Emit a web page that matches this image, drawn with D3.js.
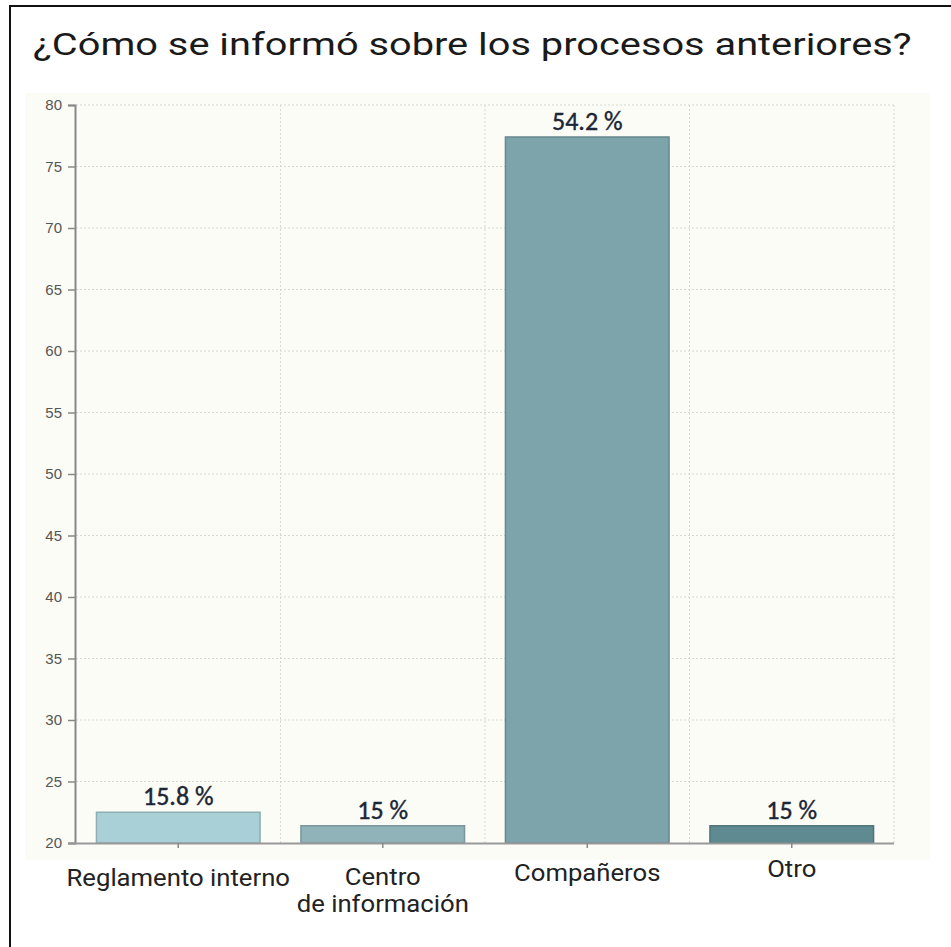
<!DOCTYPE html>
<html>
<head>
<meta charset="utf-8">
<script src="https://cdn.jsdelivr.net/npm/d3@7"></script>
<style>
  html, body { margin: 0; padding: 0; background: #ffffff; }
  svg { display: block; }
</style>
</head>
<body>
<script>
const title = "¿Cómo se informó sobre los procesos anteriores?";
const categories = ["Reglamento interno", "Centro\nde información", "Compañeros", "Otro"];
const values = [22.5, 21.4, 77.4, 21.4];
const valueLabels = ["15.8 %", "15 %", "54.2 %", "15 %"];
const barColors = ["#a9d0d6", "#8fb3b9", "#7ca4aa", "#5f8a91"];
const yTicks = [20, 25, 30, 35, 40, 45, 50, 55, 60, 65, 70, 75, 80];

const W = 951, H = 947;
const svg = d3.select("body").append("svg").attr("width", W).attr("height", H);

// outer frame
svg.append("rect").attr("x", 10).attr("y", 6).attr("width", W + 10).attr("height", H + 10)
  .attr("fill", "#fff").attr("stroke", "#111").attr("stroke-width", 2);

// title (glyphs widened horizontally like the reference)
const titleG = svg.append("g");
const titleT = titleG.append("text").attr("x", 0).attr("y", 0)
  .attr("font-family", "Roboto, sans-serif").attr("font-size", 31).attr("fill", "#1a1a1a")
  .text(title);
const tw = titleT.node().getComputedTextLength();
titleG.attr("transform", `translate(33,55) scale(${879 / tw},1)`);

// plot background
svg.append("rect").attr("x", 25).attr("y", 93).attr("width", 905).attr("height", 767)
  .attr("fill", "#fbfcf6");

const x = d3.scaleBand().domain(categories).range([76, 894]).paddingInner(0.2).paddingOuter(0.1);
const y = d3.scaleLinear().domain([20, 80]).range([843, 105]);

// horizontal gridlines
svg.append("g").selectAll("line").data(yTicks.slice(1)).join("line")
  .attr("x1", 76).attr("x2", 894).attr("y1", d => y(d)).attr("y2", d => y(d))
  .attr("stroke", "#d6d8d2").attr("stroke-width", 1).attr("stroke-dasharray", "2,2");

// vertical gridlines at band boundaries
const bounds = categories.map((c, i) => x(c) + x.bandwidth() + x.step() * x.paddingInner() / 2);
bounds[bounds.length - 1] = 894;
svg.append("g").selectAll("line").data(bounds).join("line")
  .attr("x1", d => d).attr("x2", d => d).attr("y1", y(80)).attr("y2", y(20))
  .attr("stroke", "#d6d8d2").attr("stroke-width", 1).attr("stroke-dasharray", "2,2");

// bars
svg.append("g").selectAll("rect").data(values).join("rect")
  .attr("x", (d, i) => x(categories[i]))
  .attr("y", d => y(d))
  .attr("width", x.bandwidth())
  .attr("height", d => y(20) - y(d))
  .attr("fill", (d, i) => barColors[i])
  .attr("stroke", (d, i) => d3.color(barColors[i]).darker(0.5))
  .attr("stroke-width", 1.5);

// value labels
svg.append("g").selectAll("text").data(values).join("text")
  .attr("x", (d, i) => x(categories[i]) + x.bandwidth() / 2)
  .attr("y", d => y(d) - 7)
  .attr("text-anchor", "middle")
  .attr("font-family", "Carlito, 'Liberation Sans', sans-serif")
  .attr("font-size", 26).attr("fill", "#1b2636")
  .attr("stroke", "#1b2636").attr("stroke-width", 0.4)
  .text((d, i) => valueLabels[i]);

// y axis
const yAxis = d3.axisLeft(y).tickValues(yTicks).tickSize(7).tickPadding(6);
const gy = svg.append("g").attr("transform", "translate(75,0)").call(yAxis);
gy.select(".domain").attr("stroke", "#888").attr("stroke-width", 2);
gy.selectAll(".tick line").attr("stroke", "#888").attr("stroke-width", 1.5);
gy.selectAll(".tick text").attr("font-family", "'Liberation Sans', Arial, sans-serif")
  .attr("font-size", 15).attr("fill", "#555");

// x axis
const xAxis = d3.axisBottom(x).tickSize(5).tickFormat("");
const gx = svg.append("g").attr("transform", "translate(0,843)").call(xAxis);
gx.select(".domain").attr("d", "M69,0.5H894").attr("stroke", "#999").attr("stroke-width", 2);
gx.selectAll(".tick line").attr("stroke", "#888").attr("stroke-width", 1.5);

// category labels (slightly widened glyphs like the reference)
const labelY = [886, 885, 881, 877];
const catG = svg.append("g");
categories.forEach((c, i) => {
  const lines = c.split("\n");
  lines.forEach((l, j) => {
    catG.append("g")
      .attr("transform", `translate(${x(c) + x.bandwidth() / 2},${labelY[i] + j * 27}) scale(1.07,1)`)
      .append("text")
      .attr("x", 0).attr("y", 0)
      .attr("text-anchor", "middle")
      .attr("font-family", "Roboto, sans-serif")
      .attr("font-size", 24).attr("fill", "#222")
      .text(l);
  });
});
</script>
</body>
</html>
